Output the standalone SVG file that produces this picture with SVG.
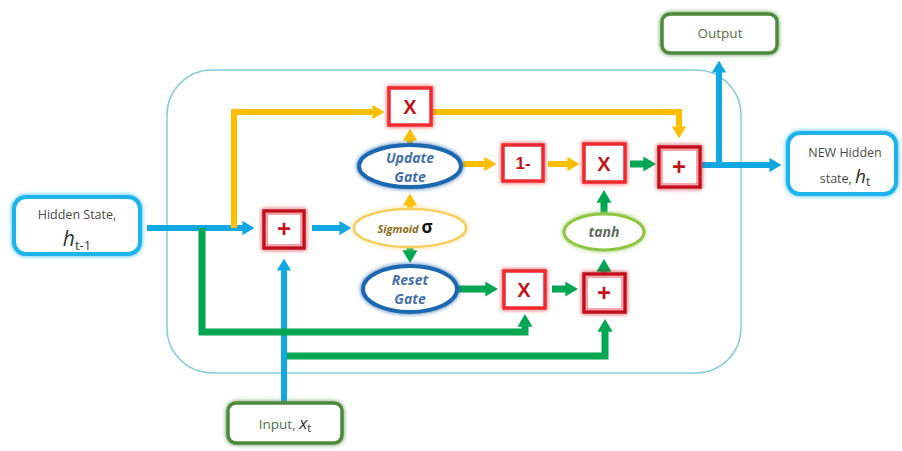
<svg xmlns="http://www.w3.org/2000/svg" width="902" height="451" viewBox="0 0 902 451">
  <defs>
    <filter id="glow" x="-30%" y="-30%" width="160%" height="160%">
      <feGaussianBlur in="SourceGraphic" stdDeviation="2.2" result="b"/>
      <feMerge><feMergeNode in="b"/><feMergeNode in="SourceGraphic"/></feMerge>
    </filter>
    <filter id="soft" x="-30%" y="-30%" width="160%" height="160%">
      <feGaussianBlur stdDeviation="0.6"/>
    </filter>
    <marker id="ahBlue" viewBox="0 0 10 12" refX="0.5" refY="6" markerWidth="2" markerHeight="2.4" orient="auto">
      <path d="M0,0 L10,6 L0,12 z" fill="#12a8e2"/>
    </marker>
    <marker id="ahYellow" viewBox="0 0 10 12" refX="0.5" refY="6" markerWidth="2" markerHeight="2.4" orient="auto">
      <path d="M0,0 L10,6 L0,12 z" fill="#ffbf00"/>
    </marker>
    <marker id="ahGreen" viewBox="0 0 10 12" refX="0.5" refY="6" markerWidth="1.8" markerHeight="2.2" orient="auto">
      <path d="M0,0 L10,6 L0,12 z" fill="#00a651"/>
    </marker>
  </defs>
  <style>
    .frame { fill: #ffffff; stroke: #86cdd6; stroke-width: 1.5; }
    .blue { fill: none; stroke: #12a8e2; stroke-width: 6; marker-end: url(#ahBlue); }
    .blueplain { fill: none; stroke: #12a8e2; stroke-width: 6; }
    .yellow { fill: none; stroke: #ffbf00; stroke-width: 6; marker-end: url(#ahYellow); }
    .green { fill: none; stroke: #00a651; stroke-width: 7; marker-end: url(#ahGreen); }
    .opbox { fill: #ffffff; stroke: #ee2a2f; stroke-width: 3.5; filter: url(#glow); }
    .addbox { fill: #ffffff; stroke: #c3111c; stroke-width: 3.5; filter: url(#glow); }
    .addinner { fill: none; stroke: #f06a6e; stroke-width: 1.2; }
    .optxt { font-family: "Liberation Sans", Arial, sans-serif; font-weight: bold; fill: #c0141c; text-anchor: middle; }
    .iobox { fill: #ffffff; stroke: #1cb4ea; stroke-width: 4; filter: url(#glow); }
    .gbox { fill: #ffffff; stroke: #4e8a3a; stroke-width: 3.5; filter: url(#glow); }
    .gate { fill: #ffffff; stroke: #1f68b0; stroke-width: 4; filter: url(#glow); }
    .gatetxt { font-family: "Open Sans", "Liberation Sans", sans-serif; font-style: italic; font-weight: bold; font-size: 14px; fill: #4470a8; text-anchor: middle; }
    .label { font-family: "Open Sans", "Liberation Sans", sans-serif; font-size: 12.5px; fill: #4a4a4a; text-anchor: middle; }
    .glabel { font-family: "Open Sans", "Liberation Sans", sans-serif; font-size: 13.5px; fill: #55704a; text-anchor: middle; }
  </style>

  <!-- GRU cell boundary -->
  <rect class="frame" x="167" y="70" width="574" height="303" rx="45" ry="45"/>

  <!-- connectors -->
  <g id="connectors">
    <!-- blue: state and input flow -->
    <path class="blue" d="M147,228 H243"/>
    <path class="blue" d="M312,228 H340"/>
    <path class="blue" d="M284,402 V270"/>
    <path class="blue" d="M702,165 H770"/>
    <path class="blue" d="M719,165 V72"/>
    <!-- yellow: update gate path -->
    <path class="yellow" d="M234,228 V112 H373"/>
    <path class="yellow" d="M432,112 H679 V127"/>
    <path class="yellow" d="M410,146 V140"/>
    <path class="yellow" d="M410,208 V205"/>
    <path class="yellow" d="M463,164 H485"/>
    <path class="yellow" d="M548,164 H568"/>
    <!-- green: reset gate / candidate path -->
    <path class="green" d="M410,248 V251"/>
    <path class="green" d="M458,289 H486"/>
    <path class="green" d="M552,289 H566"/>
    <path class="green" d="M604,273 V271"/>
    <path class="green" d="M604,213 V202"/>
    <path class="green" d="M630,164 H644"/>
    <path class="green" d="M202,228 V332 H525 V326"/>
    <path class="green" d="M287,356 H605 V331"/>
  </g>

  <!-- inputs and outputs -->
  <g id="hidden-prev">
    <rect class="iobox" x="14" y="197" width="126" height="57" rx="12"/>
    <text class="label" x="77" y="219">Hidden State,</text>
    <text x="77" y="246" text-anchor="middle" font-family="Open Sans, Liberation Sans, sans-serif" fill="#333"><tspan font-style="italic" font-size="21">h</tspan><tspan font-size="13" dy="4">t-1</tspan></text>
  </g>
  <g id="hidden-new">
    <rect class="iobox" x="788" y="133" width="108" height="61" rx="12"/>
    <text class="label" x="845" y="157">NEW Hidden</text>
    <text x="845" y="183" text-anchor="middle" font-family="Open Sans, Liberation Sans, sans-serif" fill="#4a4a4a"><tspan font-size="12.5">state, </tspan><tspan font-style="italic" font-size="19" fill="#333">h</tspan><tspan font-size="12" dy="3" fill="#333">t</tspan></text>
  </g>
  <g id="output">
    <rect class="gbox" x="662" y="14" width="115" height="39" rx="8"/>
    <text class="glabel" x="720" y="38">Output</text>
  </g>
  <g id="input">
    <rect class="gbox" x="228" y="403" width="114" height="40" rx="8"/>
    <text x="285" y="429" text-anchor="middle" font-family="Open Sans, Liberation Sans, sans-serif" fill="#55704a"><tspan font-size="13.5">Input, </tspan><tspan font-style="italic" font-size="17" fill="#333">x</tspan><tspan font-size="11" dy="3" fill="#333">t</tspan></text>
  </g>

  <!-- operators -->
  <g id="add-input">
    <rect class="addbox" x="264" y="211" width="40" height="37"/>
    <rect class="addinner" x="267" y="214" width="34" height="31"/>
    <text class="optxt" x="284" y="237" font-size="24">+</text>
  </g>
  <g id="mul-update">
    <rect class="opbox" x="389" y="88" width="42" height="37"/>
    <text class="optxt" x="410" y="114" font-size="20">X</text>
  </g>
  <g id="one-minus">
    <rect class="opbox" x="503" y="145" width="40" height="36"/>
    <text class="optxt" x="523" y="169" font-size="17">1-</text>
  </g>
  <g id="mul-candidate">
    <rect class="opbox" x="584" y="144" width="41" height="38"/>
    <text class="optxt" x="604" y="171" font-size="20">X</text>
  </g>
  <g id="add-final">
    <rect class="addbox" x="659" y="147" width="41" height="40"/>
    <rect class="addinner" x="662" y="150" width="35" height="34"/>
    <text class="optxt" x="679" y="175" font-size="24">+</text>
  </g>
  <g id="mul-reset">
    <rect class="opbox" x="504" y="271" width="41" height="37"/>
    <text class="optxt" x="524" y="297" font-size="20">X</text>
  </g>
  <g id="add-reset">
    <rect class="addbox" x="584" y="274" width="41" height="38"/>
    <rect class="addinner" x="587" y="277" width="35" height="32"/>
    <text class="optxt" x="604" y="301" font-size="24">+</text>
  </g>

  <!-- gates -->
  <g id="update-gate">
    <ellipse class="gate" cx="410" cy="166" rx="51" ry="21"/>
    <text class="gatetxt" x="410" y="163">Update</text>
    <text class="gatetxt" x="410" y="182">Gate</text>
  </g>
  <g id="sigmoid">
    <ellipse cx="410" cy="228" rx="56" ry="19" fill="#ffffff" stroke="#f5cf5c" stroke-width="2.5" filter="url(#glow)"/>
    <text x="405" y="233" text-anchor="middle" font-family="Open Sans, Liberation Sans, sans-serif"><tspan font-style="italic" font-weight="bold" font-size="11" fill="#8a6d1a">Sigmoid </tspan><tspan font-weight="bold" font-size="17" fill="#111">σ</tspan></text>
  </g>
  <g id="reset-gate">
    <ellipse class="gate" cx="410" cy="289" rx="47" ry="23"/>
    <text class="gatetxt" x="410" y="285">Reset</text>
    <text class="gatetxt" x="410" y="304">Gate</text>
  </g>
  <g id="tanh">
    <ellipse cx="604" cy="232" rx="40" ry="18" fill="#ffffff" stroke="#8dc63f" stroke-width="3" filter="url(#glow)"/>
    <text x="604" y="237" text-anchor="middle" font-family="Open Sans, Liberation Sans, sans-serif" font-style="italic" font-weight="bold" font-size="14" fill="#5c6b5c">tanh</text>
  </g>
</svg>
